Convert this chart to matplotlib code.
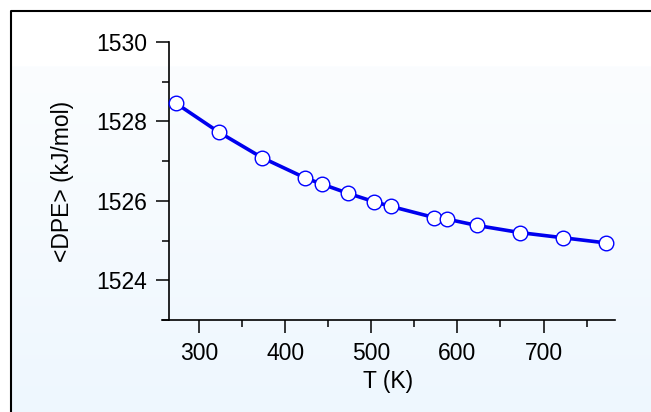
import numpy as np
import matplotlib
matplotlib.use("Agg")
import matplotlib.pyplot as plt
from matplotlib.ticker import MultipleLocator

# Data
temperature_K = [273, 323, 373, 423, 443, 473, 503, 523, 573, 588, 623, 673, 723, 773]
dpe_kjmol = [1528.46, 1527.73, 1527.09, 1526.58, 1526.42, 1526.19, 1525.98, 1525.86,
             1525.58, 1525.54, 1525.38, 1525.20, 1525.07, 1524.94]
x_ticks = [300, 400, 500, 600, 700]
y_ticks = [1524, 1526, 1528, 1530]

plt.rcParams['font.family'] = ['Liberation Sans', 'DejaVu Sans']

W, H = 651, 412
fig = plt.figure(figsize=(W / 100, H / 100), dpi=100)

# Background panel with gradient and border (top & left edges visible)
bg = fig.add_axes([0, 0, 1, 1])
bg.axis('off')
y_top, y_bot = 11, H
top_white = 66
n = y_bot - y_top
grad = np.ones((n, 1, 3))
c0 = np.array([0xfb, 0xfd, 0xff]) / 255.0
c1 = np.array([0xee, 0xf7, 0xfe]) / 255.0
for r in range(n):
    y = y_top + r
    if y < top_white:
        grad[r, 0] = [1, 1, 1]
    else:
        t = (y - top_white) / (H - top_white)
        grad[r, 0] = c0 * (1 - t) + c1 * t
bg.imshow(grad, extent=[10.5, W, y_bot, y_top], aspect='auto', interpolation='nearest', zorder=0)
bg.plot([10.5, 10.5, W + 10], [H + 10, 11, 11], color='black', lw=1.5, zorder=1, solid_capstyle='butt')
bg.set_xlim(0, W)
bg.set_ylim(H, 0)

# Main axes
left_px, right_px, top_px, bot_px = 162, 615, 42, 320
ax = fig.add_axes([left_px / W, 1 - bot_px / H, (right_px - left_px) / W, (bot_px - top_px) / H])
ax.patch.set_alpha(0)
ax.set_xlim(257, 783)
ax.set_ylim(1523, 1530)

ax.plot(temperature_K, dpe_kjmol, color='#0000ee', lw=2.6, zorder=2)
ax.plot(temperature_K, dpe_kjmol, linestyle='none', marker='o', markersize=10.5,
        markerfacecolor='white', markeredgecolor='#0000ff', markeredgewidth=1.0, zorder=3)

for s in ['top', 'right']:
    ax.spines[s].set_visible(False)
ax.spines['left'].set_position(('data', 265))
ax.spines['left'].set_bounds(1523, 1530)
ax.spines['left'].set_linewidth(1.2)
ax.spines['bottom'].set_linewidth(1.2)

ax.set_xticks(x_ticks)
ax.set_yticks(y_ticks)
ax.xaxis.set_minor_locator(MultipleLocator(50))
ax.yaxis.set_minor_locator(MultipleLocator(1))
ax.tick_params(axis='both', which='major', direction='out', length=9.5, width=1.1,
               labelsize=16.5, pad=6)
ax.tick_params(axis='both', which='minor', direction='out', length=5, width=1.1)

ax.set_xlabel('T (K)', fontsize=16.5, labelpad=4)
ax.set_ylabel('<DPE> (kJ/mol)', fontsize=16.5, labelpad=16)

fig.savefig('out.png', dpi=100)
